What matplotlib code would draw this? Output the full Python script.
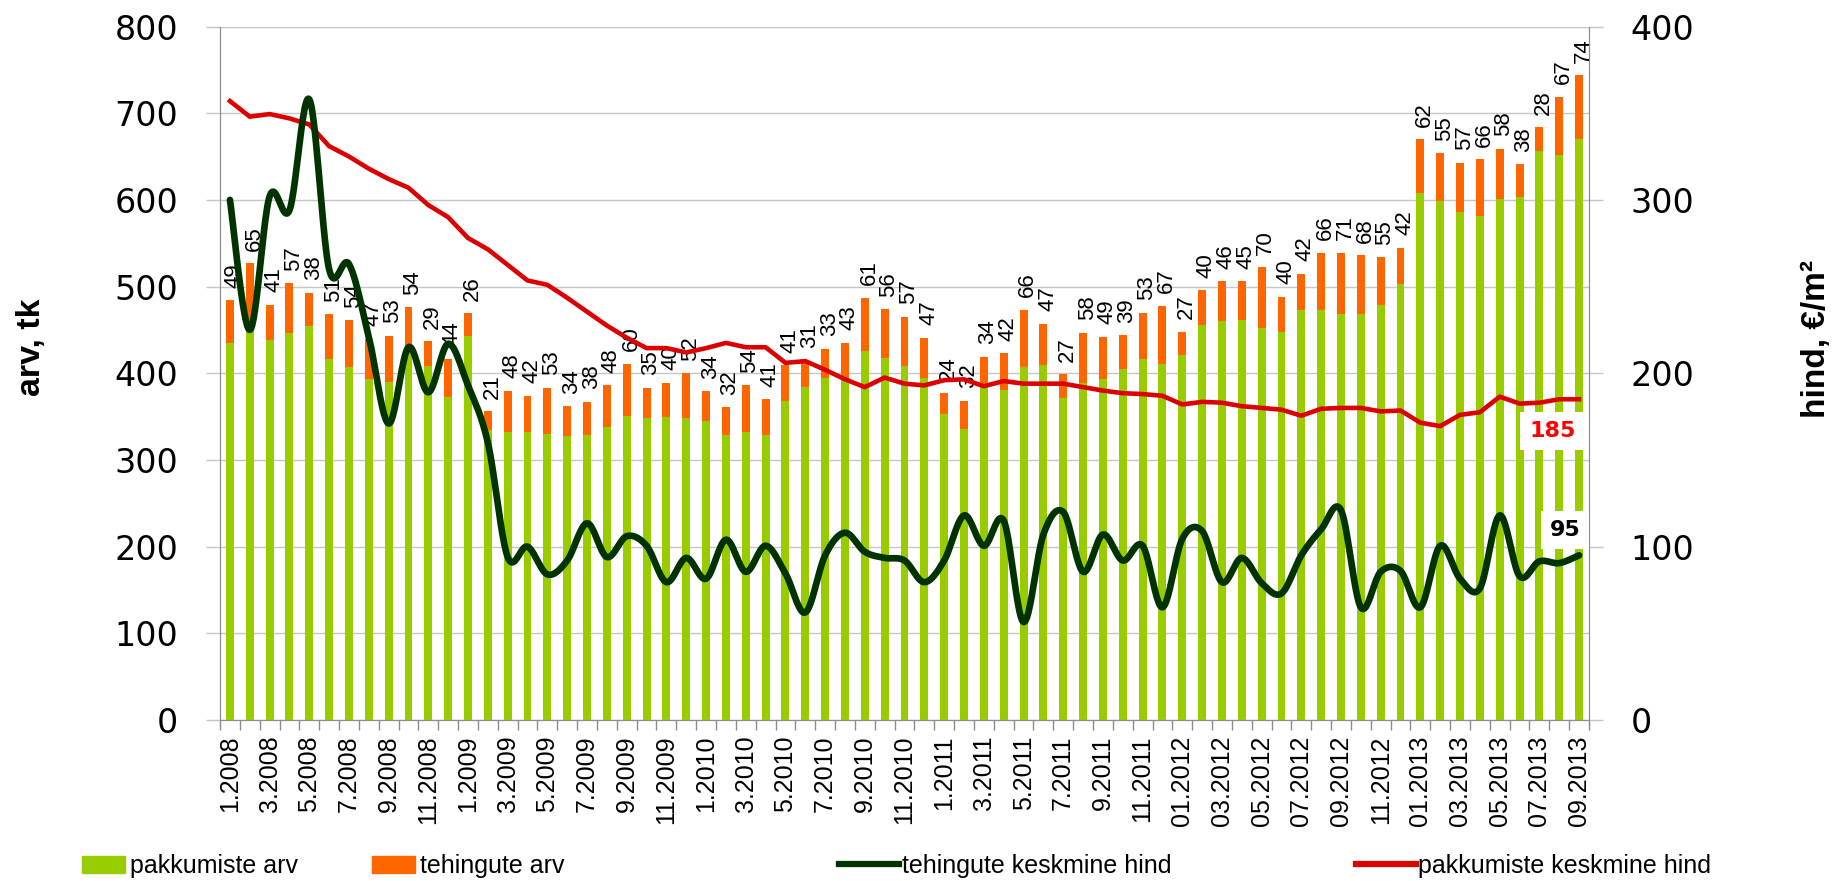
import numpy as np
import matplotlib
matplotlib.use("Agg")
import matplotlib.pyplot as plt
from matplotlib.patches import Patch
from matplotlib.lines import Line2D

# monthly data 1.2008 - 09.2013
offers = [435, 462, 438, 447, 455, 417, 407, 393, 390, 422,
          408, 373, 443, 335, 332, 332, 330, 328, 329, 338,
          351, 348, 349, 348, 345, 329, 332, 329, 368, 384,
          395, 392, 426, 418, 408, 394, 353, 336, 385, 381,
          407, 410, 372, 389, 393, 405, 417, 411, 421, 456,
          460, 461, 452, 448, 473, 473, 468, 468, 479, 503,
          608, 599, 586, 581, 601, 603, 656, 652, 670]
deals = [49, 65, 41, 57, 38, 51, 54, 47, 53, 54,
         29, 44, 26, 21, 48, 42, 53, 34, 38, 48,
         60, 35, 40, 52, 34, 32, 54, 41, 41, 31,
         33, 43, 61, 56, 57, 47, 24, 32, 34, 42,
         66, 47, 27, 58, 49, 39, 53, 67, 27, 40,
         46, 45, 70, 40, 42, 66, 71, 68, 55, 42,
         62, 55, 57, 66, 58, 38, 28, 67, 74]
deal_price = [300, 225, 302, 294, 358, 260, 263, 221, 171, 215,
              189, 217, 193, 160, 94, 100, 84, 92, 113.5, 94,
              106, 100.5, 79.5, 93.5, 81.5, 104, 85.5, 100.5, 84.5, 62,
              95, 108, 97, 93.5, 92, 79.5, 92, 118, 100.5, 115,
              56.5, 107, 120, 85.5, 107, 92, 100.5, 65, 104.5, 109,
              79.5, 93.5, 79, 73, 95, 110, 121, 65, 85.5, 86,
              65, 100.5, 81.5, 76, 118, 83, 91.5, 90.5, 95]
offer_price = [357, 348, 349.5, 347, 343.5, 331, 325, 318, 312, 307,
               297, 290, 278, 271.5, 262.5, 253.5, 251, 243.5, 235.5, 227.5,
               220.5, 214.5, 214.5, 212, 214.5, 217.5, 215, 215, 206, 207,
               202, 196.5, 192, 197.5, 194, 193, 196, 196.5, 192.5, 195.5,
               194, 194, 194, 192, 190, 188.5, 188, 187, 182, 183.5,
               183, 181, 180, 179, 175.5, 179.5, 180, 180, 178, 178.5,
               171.5, 169.5, 176, 177.5, 186.5, 182.5, 183, 185, 185]
tick_labels = ['1.2008', '3.2008', '5.2008', '7.2008', '9.2008', '11.2008',
               '1.2009', '3.2009', '5.2009', '7.2009', '9.2009', '11.2009',
               '1.2010', '3.2010', '5.2010', '7.2010', '9.2010', '11.2010',
               '1.2011', '3.2011', '5.2011', '7.2011', '9.2011', '11.2011',
               '01.2012', '03.2012', '05.2012', '07.2012', '09.2012', '11.2012',
               '01.2013', '03.2013', '05.2013', '07.2013', '09.2013']

GREEN = '#99CC00'
ORANGE = '#FF6600'
DARK = '#003300'
RED = '#DD0000'
GRID = '#C6C6C6'
SPINE = '#8C8C8C'
NARROW = ['Liberation Sans Narrow', 'Liberation Sans']


def smooth(xs, ys, n=24):
    # excel-like smoothed line (bezier through the points)
    P = np.column_stack([xs, ys]).astype(float)
    ext = np.vstack([P[0], P, P[-1]])
    t = np.linspace(0, 1, n, endpoint=False)[:, None]
    out = []
    for i in range(len(P) - 1):
        p0, p1, p2, p3 = ext[i], ext[i + 1], ext[i + 2], ext[i + 3]
        c1 = p1 + (p2 - p0) / 6
        c2 = p2 - (p3 - p1) / 6
        out.append((1 - t) ** 3 * p1 + 3 * (1 - t) ** 2 * t * c1
                   + 3 * (1 - t) * t ** 2 * c2 + t ** 3 * p2)
    out.append(P[-1:])
    pts = np.vstack(out)
    return pts[:, 0], pts[:, 1]


x = np.arange(len(offers))
totals = np.array(offers) + np.array(deals)

fig = plt.figure(figsize=(18.41, 8.81), dpi=100)
ax = fig.add_axes([220 / 1841, 161 / 881, 1369 / 1841, 693.5 / 881])
ax2 = ax.twinx()

ax.set_axisbelow(True)
ax.grid(axis='y', color=GRID, linewidth=1.0)
ax.bar(x, offers, width=0.4, color=GREEN, zorder=2)
ax.bar(x, deals, width=0.4, bottom=offers, color=ORANGE, zorder=2)

for i, d in enumerate(deals):
    ax.annotate(str(d), (x[i], totals[i]), xytext=(3, 9), textcoords='offset points',
                rotation=90, ha='center', va='bottom', fontsize=16,
                family=NARROW, zorder=3)

ax.set_xlim(-0.5, len(offers) - 0.5)
ax.set_ylim(0, 800)
ax.set_yticks(np.arange(0, 801, 100))
ax2.set_ylim(0, 400)
ax2.set_yticks(np.arange(0, 401, 100))

ax2.plot(x, offer_price, color=RED, linewidth=3.3, solid_joinstyle='round', zorder=3)
sx, sy = smooth(x, deal_price)
ax2.plot(sx, sy, color=DARK, linewidth=4.8, solid_capstyle='round', zorder=4)

ax2.annotate(f'{offer_price[-1]:.0f}', (66.66, 166.5), ha='center', va='center',
             fontsize=16, fontweight='bold', color='#FF0000',
             bbox=dict(boxstyle='square,pad=0.4', fc='white', ec='none'), zorder=5)
ax2.annotate(f'{deal_price[-1]:.0f}', (67.3, 109.6), ha='center', va='center',
             fontsize=16, fontweight='bold', color='black',
             bbox=dict(boxstyle='square,pad=0.4', fc='white', ec='none'), zorder=5)

# ticks
ax.set_xticks(np.arange(-0.5, len(offers), 1))
ax.set_xticklabels([])
ax.tick_params(axis='x', which='major', length=7, color=SPINE, width=1)
ax.set_xticks(x[::2], minor=True)
ax.set_xticklabels(tick_labels, minor=True, rotation=90, fontsize=18, family=NARROW)
ax.tick_params(axis='x', which='minor', length=0, pad=11)

for a in (ax, ax2):
    a.tick_params(axis='y', length=10, color=GRID, width=1, pad=20, labelsize=24)
    for s in a.spines.values():
        s.set_color(SPINE)
    a.spines['top'].set_visible(False)
ax.spines['bottom'].set_color('#A6A6A6')

fig.text(32 / 1841, 1 - 347 / 881, 'arv, tk', rotation=90, ha='center', va='center',
         fontsize=24.5, fontweight='bold', family='Liberation Sans')
fig.text(1816 / 1841, 1 - 339 / 881, 'hind, €/m²', rotation=90, ha='center', va='center',
         fontsize=24, fontweight='bold', family='Liberation Sans')

# legend, entries placed like the original
entries = [
    (Patch(color=GREEN), 'pakkumiste arv', 82, 1.7, 0.2),
    (Patch(color=ORANGE), 'tehingute arv', 372, 1.7, 0.2),
    (Line2D([], [], color=DARK, linewidth=4.5), 'tehingute keskmine hind', 839, 2.4, 0.1),
    (Line2D([], [], color=RED, linewidth=4.5), 'pakkumiste keskmine hind', 1356, 2.4, 0.1),
]
for h, lab, x0, hl, tp in entries:
    fig.legend([h], [lab], loc='center left', bbox_to_anchor=(x0 / 1841, 1 - 866 / 881),
               frameon=False, borderpad=0, borderaxespad=0, handlelength=hl,
               handletextpad=tp, prop={'family': 'Liberation Sans', 'size': 18})

fig.savefig('out.png', dpi=100)
